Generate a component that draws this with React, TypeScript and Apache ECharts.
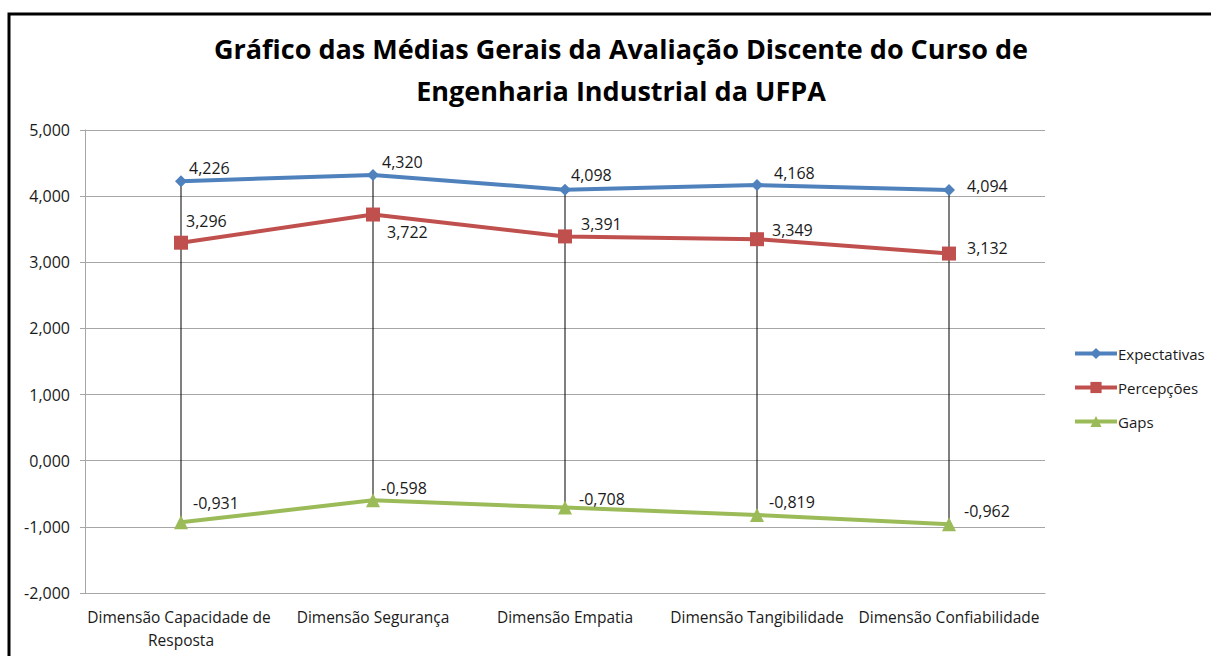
import React, { useEffect, useRef } from "react";
import * as echarts from "echarts";

const categories = [
  "Dimensão Capacidade de Resposta",
  "Dimensão Segurança",
  "Dimensão Empatia",
  "Dimensão Tangibilidade",
  "Dimensão Confiabilidade",
];
const expectativas = [4.226, 4.32, 4.098, 4.168, 4.094];
const percepcoes = [3.296, 3.722, 3.391, 3.349, 3.132];
const gaps = [-0.931, -0.598, -0.708, -0.819, -0.962];
const yTicks = { min: -2, max: 5, interval: 1 };

// label placements (pixel offsets), kept apart from the values
const expOffsets = [[2, -13], [3, -13], [0, -15], [11, -12], [12, -4]];
const percOffsets = [[-2, -22], [7, 17], [9, -12], [8, -9], [11, -6]];
const gapOffsets = [[5, -19], [1, -12], [7, -9], [5, -13], [8, -13]];

const FONT = "'Open Sans', sans-serif";
const fmt = (v: number) => v.toFixed(3).replace(".", ",");

function seriesData(values: number[], offsets: number[][]) {
  return values.map((v, i) => ({
    value: v,
    label: { offset: offsets[i] },
  }));
}

export default function App() {
  const ref = useRef<HTMLDivElement>(null);
  useEffect(() => {
    if (!ref.current) return;
    const chart = echarts.init(ref.current, null, { renderer: "svg" });
    const labelBase = {
      show: true,
      position: "right",
      distance: 0,
      color: "#1a1a1a",
      fontFamily: FONT,
      fontSize: 16,
      formatter: (p: any) => fmt(p.value),
    };
    const hiLo = categories.map((_, i) => {
      const vals = [expectativas[i], percepcoes[i], gaps[i]];
      return [i, Math.max(...vals), Math.min(...vals)];
    });
    chart.setOption({
      animation: false,
      backgroundColor: "#fff",
      title: {
        text: "Gráfico das Médias Gerais da Avaliação Discente do Curso de\nEngenharia Industrial da UFPA",
        left: 616,
        top: 22,
        textAlign: "center",
        textStyle: {
          fontFamily: FONT,
          fontWeight: "bold",
          fontSize: 27,
          lineHeight: 42,
          color: "#000",
        },
      },
      graphic: [
        {
          type: "rect",
          shape: { x: 9, y: 14, width: 1400, height: 900 },
          style: { fill: "none", stroke: "#000", lineWidth: 3 },
          silent: true,
        },
      ],
      legend: {
        orient: "vertical",
        left: 1068,
        top: 341,
        itemWidth: 42,
        itemHeight: 14,
        itemGap: 19,
        data: ["Expectativas", "Percepções", "Gaps"],
        lineStyle: { width: 4 },
        textStyle: { fontFamily: FONT, fontSize: 15, color: "#1a1a1a", padding: [0, 0, 0, -4] },
      },
      grid: { left: 85, right: 166, top: 130, bottom: 63, containLabel: false },
      xAxis: {
        type: "category",
        data: categories,
        boundaryGap: true,
        axisLine: { show: true, onZero: false, lineStyle: { color: "#a6a6a6", width: 1 } },
        axisTick: { show: false },
        axisLabel: {
          interval: 0,
          margin: 12,
          width: 198,
          overflow: "break",
          lineHeight: 23,
          fontFamily: FONT,
          fontSize: 15.5,
          color: "#1a1a1a",
        },
      },
      yAxis: {
        type: "value",
        min: yTicks.min,
        max: yTicks.max,
        interval: yTicks.interval,
        axisLine: { show: true, lineStyle: { color: "#a6a6a6", width: 1 } },
        axisTick: { show: true, length: 5, lineStyle: { color: "#a6a6a6" } },
        splitLine: { lineStyle: { color: "#a6a6a6", width: 1 } },
        axisLabel: {
          formatter: (v: number) => fmt(v),
          margin: 15,
          fontFamily: FONT,
          fontSize: 16,
          color: "#1a1a1a",
        },
      },
      series: [
        {
          type: "custom",
          name: "hilo",
          data: hiLo,
          encode: { x: 0, y: [1, 2] },
          z: 1,
          silent: true,
          renderItem: (params: any, api: any) => {
            const top = api.coord([api.value(0), api.value(1)]);
            const bot = api.coord([api.value(0), api.value(2)]);
            return {
              type: "line",
              shape: { x1: top[0], y1: top[1], x2: bot[0], y2: bot[1] },
              style: { stroke: "#000", lineWidth: 1 },
            };
          },
        },
        {
          name: "Expectativas",
          type: "line",
          data: seriesData(expectativas, expOffsets),
          symbol: "diamond",
          symbolSize: 12,
          z: 3,
          lineStyle: { color: "#4F81BD", width: 4 },
          itemStyle: { color: "#4F81BD" },
          label: labelBase,
        },
        {
          name: "Percepções",
          type: "line",
          data: seriesData(percepcoes, percOffsets),
          symbol: "rect",
          symbolSize: 14,
          z: 3,
          lineStyle: { color: "#C0504D", width: 4 },
          itemStyle: { color: "#C0504D" },
          label: labelBase,
        },
        {
          name: "Gaps",
          type: "line",
          data: seriesData(gaps, gapOffsets),
          symbol: "triangle",
          symbolSize: 14,
          z: 3,
          lineStyle: { color: "#9BBB59", width: 4 },
          itemStyle: { color: "#9BBB59" },
          label: labelBase,
        },
      ],
    });
    return () => chart.dispose();
  }, []);
  return (
    <div
      ref={ref}
      style={{ position: "fixed", left: 0, top: 0, width: 1211, height: 656, background: "#fff" }}
    />
  );
}
